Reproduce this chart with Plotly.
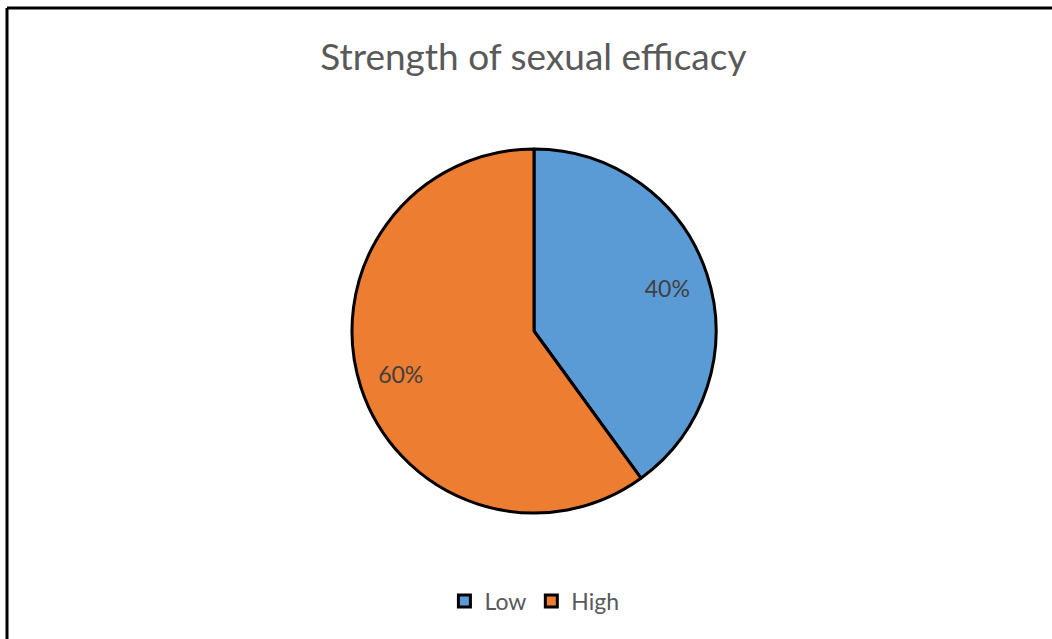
import plotly.graph_objects as go

categories = ["Low", "High"]
values = [40, 60]
colors = ["#5B9BD5", "#ED7D31"]
title_text = "Strength of sexual efficacy"

W, H = 1052, 639
cx, cy, r = 534, 331, 182
dom = dict(x=[(cx - r) / W, (cx + r) / W], y=[(H - cy - r) / H, (H - cy + r) / H])

fig = go.Figure()
# Base pie: filled slices with black outline
fig.add_trace(go.Pie(
    labels=categories,
    values=values,
    sort=False,
    direction="clockwise",
    rotation=0,
    marker=dict(colors=colors, line=dict(color="#000000", width=3)),
    textinfo="none",
    domain=dom,
    hoverinfo="label+percent",
    showlegend=True,
))
# Overlay ring carrying only the percentage labels, placed near the outer part of the slices
fig.add_trace(go.Pie(
    labels=categories,
    values=values,
    sort=False,
    direction="clockwise",
    rotation=0,
    hole=0.54,
    marker=dict(colors=["rgba(0,0,0,0)"] * len(values), line=dict(width=0)),
    textinfo="percent",
    textposition="inside",
    insidetextorientation="horizontal",
    textfont=dict(family="Lato", size=23, color="#404040"),
    domain=dom,
    hoverinfo="skip",
    showlegend=False,
))

fig.update_layout(
    width=W, height=H,
    margin=dict(l=0, r=0, t=0, b=0),
    paper_bgcolor="#FFFFFF",
    plot_bgcolor="#FFFFFF",
    title=dict(text=title_text, x=0.507, xanchor="center", y=1 - 57 / H, yanchor="middle",
               font=dict(family="Lato", size=37, color="#595959")),
    showlegend=True,
    legend=dict(orientation="h", x=0.508, xanchor="center", y=(H - 601) / H, yanchor="middle",
                font=dict(family="Lato", size=23, color="#595959"), itemwidth=30,
                traceorder="normal"),
    shapes=[
        dict(type="line", xref="paper", yref="paper", x0=7 / W, x1=1, y0=1 - 8 / H, y1=1 - 8 / H,
             line=dict(color="#000000", width=3)),
        dict(type="line", xref="paper", yref="paper", x0=7 / W, x1=7 / W, y0=0, y1=1 - 8 / H,
             line=dict(color="#000000", width=3)),
    ],
)

fig.write_html("out.html")
